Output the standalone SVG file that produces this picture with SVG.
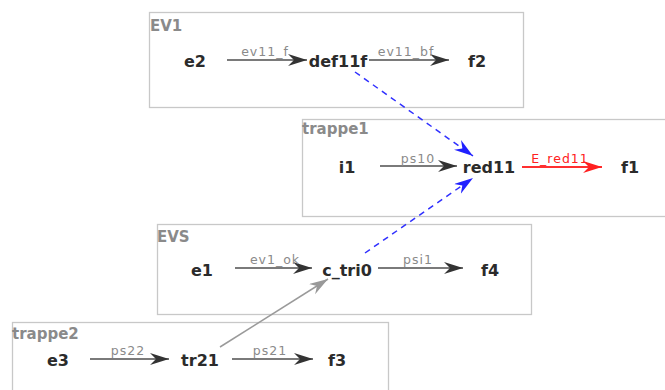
<svg xmlns="http://www.w3.org/2000/svg" width="665" height="390" viewBox="0 0 665 390">
<style>
.box{fill:#fff;stroke:#c8c8c8;stroke-width:1.3}
.glab{font-family:"DejaVu Sans",sans-serif;font-weight:bold;font-size:15px;fill:#8a8a8a}
.node{font-family:"DejaVu Sans",sans-serif;font-weight:bold;font-size:16px;fill:#2b2b2b;text-anchor:middle}
.elab{font-family:"DejaVu Sans",sans-serif;font-size:12.5px;fill:#8a8a8a;text-anchor:middle;letter-spacing:1px}
.edge{stroke:#7a7a7a;stroke-width:1.8;fill:none;marker-end:url(#ah)}
.red{stroke:#ff3030;stroke-width:1.8;fill:none;marker-end:url(#ahr)}
.blue{stroke:#3030ff;stroke-width:1.5;fill:none;stroke-dasharray:6,5;marker-end:url(#ahb)}
.grey{stroke:#9a9a9a;stroke-width:1.5;fill:none;marker-end:url(#ahg)}
</style>
<defs>
<marker id="ah" markerUnits="userSpaceOnUse" markerWidth="20" markerHeight="13" refX="19" refY="6" orient="auto"><path d="M0,0 L19,6 L0,12 L6,6 z" fill="#333"/></marker>
<marker id="ahr" markerUnits="userSpaceOnUse" markerWidth="20" markerHeight="13" refX="19" refY="6" orient="auto"><path d="M0,0 L19,6 L0,12 L6,6 z" fill="#ff2020"/></marker>
<marker id="ahb" markerUnits="userSpaceOnUse" markerWidth="20" markerHeight="13" refX="19" refY="6" orient="auto"><path d="M0,0 L19,6 L0,12 L6,6 z" fill="#2020ff"/></marker>
<marker id="ahg" markerUnits="userSpaceOnUse" markerWidth="20" markerHeight="13" refX="19" refY="6" orient="auto"><path d="M0,0 L19,6 L0,12 L6,6 z" fill="#999"/></marker>
</defs>
<rect width="665" height="390" fill="#fff"/>
<g id="cluster-EV1"><rect class="box" x="149.5" y="12.5" width="374" height="95"/><text class="glab" x="150" y="31">EV1</text></g>
<g id="cluster-trappe1"><rect class="box" x="302.5" y="119.5" width="380" height="97"/><text class="glab" x="302" y="134">trappe1</text></g>
<g id="cluster-EVS"><rect class="box" x="157.5" y="224.5" width="374" height="90"/><text class="glab" x="157" y="242">EVS</text></g>
<g id="cluster-trappe2"><rect class="box" x="12.5" y="322.5" width="376" height="80"/><text class="glab" x="12" y="339">trappe2</text></g>
<g id="connectors">
<line class="edge" x1="227" y1="60" x2="307" y2="60"/>
<text class="elab" x="265" y="56">ev11_f</text>
<line class="edge" x1="369" y1="60" x2="449" y2="60"/>
<text class="elab" x="406" y="56">ev11_bf</text>
<line class="edge" x1="380" y1="166" x2="457" y2="166"/>
<text class="elab" x="418" y="163">ps10</text>
<line class="red" x1="522" y1="167" x2="602" y2="167"/>
<text class="elab" x="560" y="163" style="fill:#ff2020">E_red11</text>
<line class="edge" x1="235" y1="268" x2="312" y2="268"/>
<text class="elab" x="275" y="264">ev1_ok</text>
<line class="edge" x1="378" y1="268" x2="463" y2="268"/>
<text class="elab" x="418" y="264">psi1</text>
<line class="edge" x1="90" y1="359" x2="169" y2="359"/>
<text class="elab" x="128" y="355">ps22</text>
<line class="edge" x1="232" y1="359" x2="313" y2="359"/>
<text class="elab" x="270" y="355">ps21</text>
<line class="blue" x1="355" y1="72" x2="473" y2="156"/>
<line class="blue" x1="365" y1="253" x2="473" y2="178"/>
<line class="grey" x1="220" y1="347" x2="328" y2="279"/>
</g>
<g id="node-e2"><text class="node" x="195" y="67">e2</text></g>
<g id="node-def11f"><text class="node" x="338" y="67">def11f</text></g>
<g id="node-f2"><text class="node" x="477" y="67">f2</text></g>
<g id="node-i1"><text class="node" x="347" y="173">i1</text></g>
<g id="node-red11"><text class="node" x="489" y="173">red11</text></g>
<g id="node-f1"><text class="node" x="630" y="173">f1</text></g>
<g id="node-e1"><text class="node" x="202" y="276">e1</text></g>
<g id="node-c_tri0"><text class="node" x="347" y="276">c_tri0</text></g>
<g id="node-f4"><text class="node" x="490" y="276">f4</text></g>
<g id="node-e3"><text class="node" x="58" y="366">e3</text></g>
<g id="node-tr21"><text class="node" x="200" y="366">tr21</text></g>
<g id="node-f3"><text class="node" x="337" y="366">f3</text></g>
</svg>
